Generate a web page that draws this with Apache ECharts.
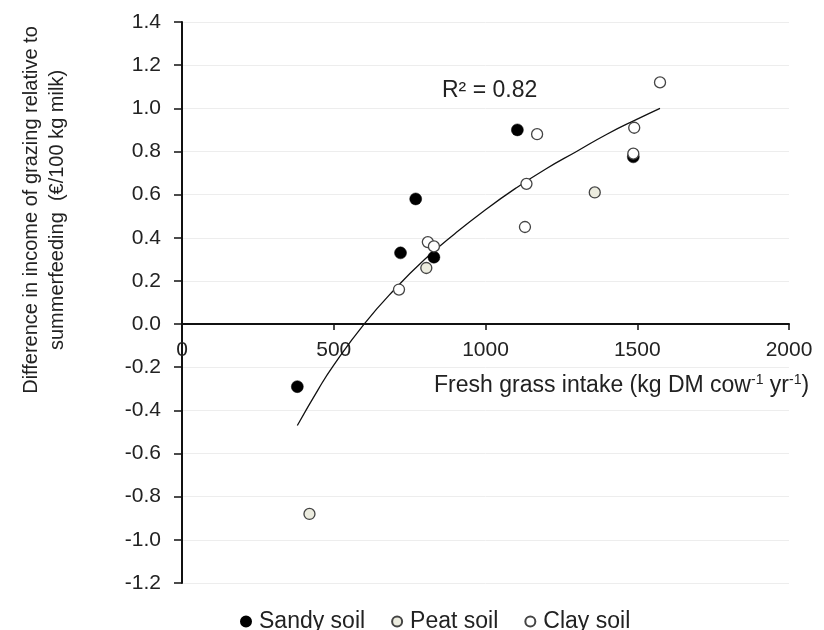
<!DOCTYPE html>
<html>
<head>
<meta charset="utf-8">
<script src="https://cdn.jsdelivr.net/npm/echarts@6/dist/echarts.min.js"></script>
<style>
html, body { margin: 0; padding: 0; background: #fff; }
#chart { width: 824px; height: 630px; }
</style>
</head>
<body>
<div id="chart"></div>
<script>
// points: [fresh grass intake, income difference]
var sandySoil = [[380, -0.29], [720, 0.33], [770, 0.58], [830, 0.31], [1105, 0.90], [1487, 0.775]];
var peatSoil = [[420, -0.88], [805, 0.26], [1360, 0.61]];
var claySoil = [[715, 0.16], [810, 0.38], [830, 0.36], [1130, 0.45], [1135, 0.65], [1170, 0.88], [1487, 0.79], [1490, 0.91], [1575, 1.12]];
// trend curve as drawn in the picture
var trendLine = [[380, -0.47], [450, -0.30], [500, -0.19], [600, 0.0], [700, 0.16], [800, 0.30], [900, 0.42],
  [1000, 0.53], [1100, 0.63], [1200, 0.72], [1300, 0.80], [1400, 0.88], [1500, 0.95], [1575, 1.0]];
var xTicks = [0, 500, 1000, 1500, 2000];
var yTicks = [-1.2, -1.0, -0.8, -0.6, -0.4, -0.2, 0.0, 0.2, 0.4, 0.6, 0.8, 1.0, 1.2, 1.4];

var font = 'Liberation Sans, Arial, sans-serif';
var gridTop = 22, gridBottom = 47;
var plotH = 630 - gridTop - gridBottom;
var yMin = yTicks[0], yMax = yTicks[yTicks.length - 1];
// x axis sits on y = 0, move it up from the grid bottom
var zeroShift = plotH * (0 - yMin) / (yMax - yMin);

var chart = echarts.init(document.getElementById('chart'));

chart.setOption({
  animation: false,
  textStyle: { fontFamily: font },
  grid: { left: 182, right: 35, top: gridTop, bottom: gridBottom, containLabel: false },
  legend: {
    data: ['Sandy soil', 'Peat soil', 'Clay soil'],
    left: 235,
    top: 605,
    icon: 'circle',
    itemWidth: 10,
    itemHeight: 10,
    itemGap: 26,
    textStyle: { fontSize: 23, color: '#222', fontFamily: font, padding: [0, 0, 0, 3] }
  },
  xAxis: {
    type: 'value',
    min: xTicks[0],
    max: xTicks[xTicks.length - 1],
    interval: 500,
    offset: -zeroShift,
    axisLine: { onZero: false, lineStyle: { color: '#111', width: 2 } },
    axisTick: { show: true, inside: false, length: 6, lineStyle: { color: '#111', width: 1.5 } },
    axisLabel: {
      margin: 16, fontSize: 21, color: '#222', fontFamily: font,
      formatter: function (v) { return String(v); }
    },
    splitLine: { show: false }
  },
  yAxis: {
    type: 'value',
    min: yMin,
    max: yMax,
    interval: 0.2,
    axisLine: { show: true, onZero: false, lineStyle: { color: '#111', width: 2 } },
    axisTick: { show: true, length: 8, lineStyle: { color: '#111', width: 1.5 } },
    axisLabel: {
      margin: 21, fontSize: 21, color: '#222', fontFamily: font,
      formatter: function (v) { return v.toFixed(1); }
    },
    splitLine: { show: true, lineStyle: { color: '#ededed', width: 1 } }
  },
  graphic: [
    {
      type: 'text',
      left: 434,
      top: 373,
      style: {
        text: 'Fresh grass intake (kg DM cow{sup|-1} yr{sup|-1})',
        fontSize: 23,
        fill: '#222',
        fontFamily: font,
        rich: { sup: { fontSize: 14, verticalAlign: 'top', padding: [0, 0, 11, 0] } }
      }
    },
    {
      type: 'text',
      left: 442,
      top: 79,
      style: { text: 'R² = 0.82', fontSize: 23, fill: '#222', fontFamily: font }
    },
    {
      type: 'text',
      x: 44,
      y: 210,
      rotation: Math.PI / 2,
      style: {
        text: 'Difference in income of grazing relative to\nsummerfeeding  (€/100 kg milk)',
        fontSize: 20,
        lineHeight: 26,
        fill: '#222',
        fontFamily: font,
        align: 'center',
        verticalAlign: 'middle'
      }
    }
  ],
  series: [
    {
      name: 'trend',
      type: 'line',
      data: trendLine,
      smooth: true,
      showSymbol: false,
      symbol: 'none',
      lineStyle: { color: '#111', width: 1.3 },
      z: 1
    },
    {
      name: 'Sandy soil',
      type: 'scatter',
      data: sandySoil,
      symbolSize: 12,
      itemStyle: { color: '#000', borderColor: '#000', borderWidth: 0.5, opacity: 1 },
      z: 3
    },
    {
      name: 'Peat soil',
      type: 'scatter',
      data: peatSoil,
      symbolSize: 11,
      itemStyle: { color: '#ececdf', borderColor: '#444', borderWidth: 1.3, opacity: 1 },
      z: 4
    },
    {
      name: 'Clay soil',
      type: 'scatter',
      data: claySoil,
      symbolSize: 11,
      itemStyle: { color: '#fff', borderColor: '#444', borderWidth: 1.3, opacity: 1 },
      z: 4
    }
  ]
});
</script>
</body>
</html>
